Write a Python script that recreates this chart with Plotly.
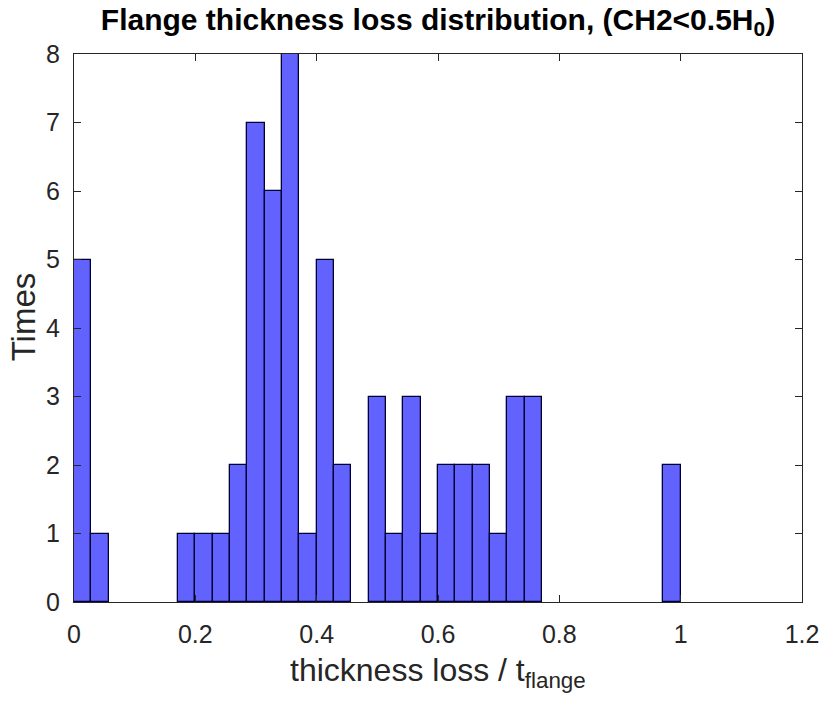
import plotly.graph_objects as go

# histogram: 35 bins of equal width spanning 0..1
bin_start = 0.0
bin_end = 1.0
n_bins = 35
counts = [5, 1, 0, 0, 0, 0, 1, 1, 1, 2, 7, 6, 8, 1, 5, 2, 0, 3, 1, 3,
          1, 2, 2, 2, 1, 3, 3, 0, 0, 0, 0, 0, 0, 0, 2]

x_ticks = [0, 0.2, 0.4, 0.6, 0.8, 1, 1.2]
y_ticks = [0, 1, 2, 3, 4, 5, 6, 7, 8]

bin_width = (bin_end - bin_start) / n_bins
# empty bins are not drawn (matlab draws nothing there)
centers = [bin_start + (i + 0.5) * bin_width for i in range(n_bins) if counts[i] > 0]
heights = [c for c in counts if c > 0]

fig = go.Figure()
fig.add_trace(go.Bar(
    x=centers, y=heights, width=bin_width,
    marker=dict(color="#6262ff", line=dict(color="#000033", width=1.3)),
    hoverinfo="x+y",
))

fam = "Liberation Sans, Arial, sans-serif"
grey = "#262626"

fig.update_layout(
    width=831, height=704,
    margin=dict(l=74, r=24, t=54, b=102),
    paper_bgcolor="white", plot_bgcolor="white",
    showlegend=False, bargap=0,
    title=dict(
        text="<b>Flange thickness loss distribution, (CH2<0.5H<sub>0</sub>)</b>",
        xref="paper", x=0.5, xanchor="center", y=0.973, yanchor="middle",
        font=dict(family=fam, size=30, color="black"),
    ),
    font=dict(family=fam, size=25, color=grey),
)
fig.update_xaxes(
    range=[0, 1.2], tickvals=x_ticks, ticktext=[str(v) for v in x_ticks],
    ticks="inside", ticklen=7, tickcolor=grey, ticklabelstandoff=10,
    showline=True, linecolor=grey, linewidth=1, mirror="ticks",
    showgrid=False, zeroline=False, tickfont=dict(family=fam, size=25, color=grey),
)
fig.update_yaxes(
    range=[0, 8], tickvals=y_ticks,
    ticks="inside", ticklen=7, tickcolor=grey, ticklabelstandoff=8,
    showline=True, linecolor=grey, linewidth=1, mirror="ticks",
    showgrid=False, zeroline=False, tickfont=dict(family=fam, size=25, color=grey),
)

# axis titles placed as annotations so they can sit exactly where matlab put them
fig.add_annotation(
    text="thickness loss / t<sub>flange</sub>", xref="paper", yref="paper",
    x=0.5, y=-0.0876, xanchor="center", yanchor="top", showarrow=False,
    font=dict(family=fam, size=32, color=grey),
)
fig.add_annotation(
    text="Times", xref="paper", yref="paper", textangle=-90,
    x=-0.0696, y=0.52, xanchor="center", yanchor="middle", showarrow=False,
    font=dict(family=fam, size=33, color=grey),
)

# the page has a default 8px body margin; remove it so the figure sits at 0,0
fig.write_html("out.html", config={"displayModeBar": False},
               post_script="document.body.style.margin='0';")
